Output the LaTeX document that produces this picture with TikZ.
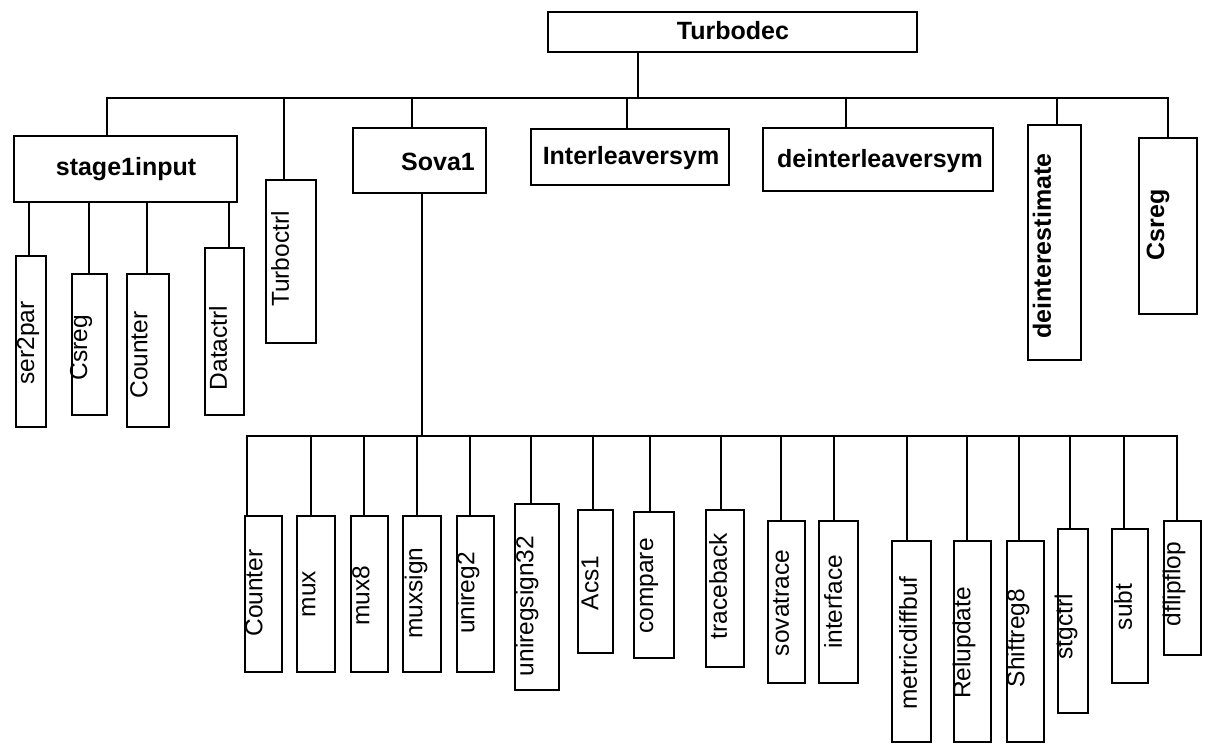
\documentclass[tikz,border=0pt]{standalone}
\usepackage{fontspec}
\setmainfont{Liberation Sans}
% box given by its corners: name, x1, y1, x2, y2, x of the incoming wire
\newcommand\blk[6]{%
  \node[box, minimum width={(#4-#2)*1pt}, minimum height={(#5-#3)*1pt}]
    (#1) at ({(#2+#4)/2},{(#3+#5)/2}) {};
  \coordinate (#1-in) at (#6,#3);}
\begin{document}
\begin{tikzpicture}[x=1pt,y=-1pt,
  wire/.style={draw=black, line width=1.8pt, line cap=rect},
  box/.style={draw=black, line width=1.8pt, fill=white, inner sep=0pt, outer sep=0pt},
  lbl/.style={inner sep=0pt, font=\fontsize{24.5}{28}\selectfont},
  blbl/.style={inner sep=0pt, font=\fontsize{25}{28}\selectfont\bfseries},
  vlbl/.style={lbl, rotate=90},
  vblbl/.style={blbl, rotate=90}]
\path[fill=white, use as bounding box] (0,0) rectangle (1216,745);

% ---------- top level ----------
\blk{turbodec}{548}{12}{917}{52}{638}
\node[blbl] (turbodec-t) at (733,31) {Turbodec};
\coordinate (busA) at (638,98);

\blk{s1}{14}{136}{237}{202}{107}
\node[blbl] (s1-t) at (126,169) {stage1input};
\blk{tctl}{266}{180}{316}{343}{284}
\node[vlbl] (tctl-t) at (280,259) {Turboctrl};
\blk{sova}{353}{128}{486}{193}{412}
\node[blbl] (sova-t) at (438,162) {Sova1};
\blk{il}{531}{129}{729}{185}{627}
\node[blbl] (il-t) at (631,158) {Interleaversym};
\blk{dil}{763}{128}{993}{191}{846}
\node[blbl] (dil-t) at (880,161) {deinterleaversym};
\blk{dest}{1028}{125}{1081}{360}{1057}
\node[vblbl] (dest-t) at (1042,246) {deinterestimate};
\blk{cs}{1139}{138}{1197}{314}{1168}
\node[vblbl] (cs-t) at (1158,225) {Csreg};

% ---------- under stage1input ----------
\blk{ser}{16}{256}{46}{427}{29}
\node[vlbl] (ser-t) at (28,343) {ser2par};
\blk{csr}{72}{274}{107}{415}{89}
\node[vlbl] (csr-t) at (81,348) {Csreg};
\blk{cnta}{127}{274}{169}{427}{147}
\node[vlbl] (cnta-t) at (139,355) {Counter};
\blk{dctl}{205}{248}{244}{415}{229}
\node[vlbl] (dctl-t) at (218,348) {Datactrl};

% ---------- under Sova1 ----------
\coordinate (sova-out) at (422,193);
\coordinate (busC) at (422,436);
\blk{cntb}{245}{516}{282}{672}{247}
\node[vlbl] (cntb-t) at (254,593) {Counter};
\blk{mux}{297}{516}{335}{672}{311}
\node[vlbl] (mux-t) at (309,594) {mux};
\blk{muxe}{351}{516}{388}{672}{364}
\node[vlbl] (muxe-t) at (361,596) {mux8};
\blk{muxs}{403}{516}{441}{672}{417}
\node[vlbl] (muxs-t) at (416,593) {muxsign};
\blk{unr}{457}{516}{494}{672}{470}
\node[vlbl] (unr-t) at (468,593) {unireg2};
\blk{unrs}{515}{504}{559}{690}{531}
\node[vlbl] (unrs-t) at (527,606) {uniregsign32};
\blk{acs}{578}{510}{613}{653}{593}
\node[vlbl] (acs-t) at (590,583) {Acs1};
\blk{cmp}{634}{512}{674}{658}{650}
\node[vlbl] (cmp-t) at (649,586) {compare};
\blk{trb}{706}{510}{744}{667}{721}
\node[vlbl] (trb-t) at (718,586) {traceback};
\blk{svt}{768}{521}{805}{683}{781}
\node[vlbl] (svt-t) at (781,603) {sovatrace};
\blk{itf}{819}{521}{858}{683}{834}
\node[vlbl] (itf-t) at (833,602) {interface};
\blk{mdb}{892}{541}{931}{742}{907}
\node[vlbl] (mdb-t) at (908,643) {metricdiffbuf};
\blk{rlu}{954}{541}{991}{742}{967}
\node[vlbl] (rlu-t) at (964,643) {Relupdate};
\blk{shr}{1007}{541}{1044}{742}{1019}
\node[vlbl] (shr-t) at (1018,638) {Shiftreg8};
\blk{stg}{1058}{529}{1088}{713}{1070}
\node[vlbl] (stg-t) at (1066,627) {stgctrl};
\blk{sub}{1112}{529}{1148}{683}{1124}
\node[vlbl] (sub-t) at (1123,607) {subt};
\blk{dff}{1164}{521}{1201}{655}{1177}
\node[vlbl] (dff-t) at (1174,584) {dflipflop};

% ---------- connectors ----------
\draw[wire] (turbodec.south -| busA) -- (busA);
\draw[wire] (busA -| s1-in) -- (busA -| cs-in);
\foreach \n in {s1,tctl,sova,il,dil,dest,cs}
  \draw[wire] (busA -| \n-in) -- (\n-in);
\foreach \n in {ser,csr,cnta,dctl}
  \draw[wire] (s1.south -| \n-in) -- (\n-in);
\draw[wire] (sova-out) -- (busC);
\draw[wire] (busC -| cntb-in) -- (busC -| dff-in);
\foreach \n in {cntb,mux,muxe,muxs,unr,unrs,acs,cmp,trb,svt,itf,mdb,rlu,shr,stg,sub,dff}
  \draw[wire] (busC -| \n-in) -- (\n-in);
\end{tikzpicture}
\end{document}
